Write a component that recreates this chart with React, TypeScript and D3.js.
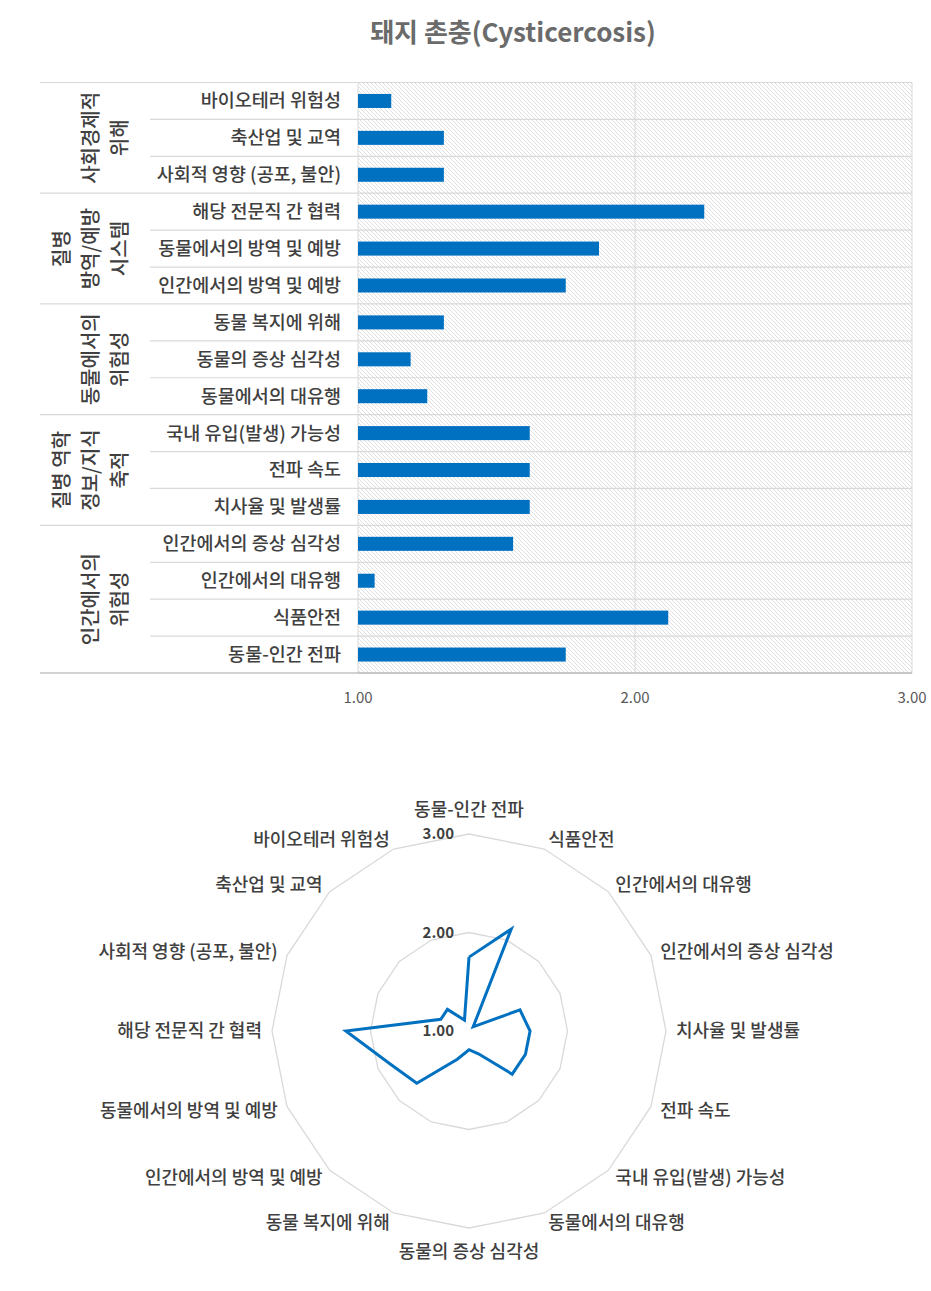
import React from "react";
import * as d3 from "d3";

const title = "돼지 촌충(Cysticercosis)";

const categories = [
  "바이오테러 위험성",
  "축산업 및 교역",
  "사회적 영향 (공포, 불안)",
  "해당 전문직 간 협력",
  "동물에서의 방역 및 예방",
  "인간에서의 방역 및 예방",
  "동물 복지에 위해",
  "동물의 증상 심각성",
  "동물에서의 대유행",
  "국내 유입(발생) 가능성",
  "전파 속도",
  "치사율 및 발생률",
  "인간에서의 증상 심각성",
  "인간에서의 대유행",
  "식품안전",
  "동물-인간 전파",
];

const values = [1.12, 1.31, 1.31, 2.25, 1.87, 1.75, 1.31, 1.19, 1.25, 1.62, 1.62, 1.62, 1.56, 1.06, 2.12, 1.75];

const groupLines = [
  ["사회경제적", "위해"],
  ["질병", "방역/예방", "시스템"],
  ["동물에서의", "위험성"],
  ["질병 역학", "정보/지식", "축적"],
  ["인간에서의", "위험성"],
];
const groupSizes = [3, 3, 3, 3, 4];

const barTicks = [1, 2, 3];
const radarTicks = [1, 2, 3];

const FONT = "'Noto Sans CJK KR', 'Noto Sans', sans-serif";
const BLUE = "#0070C0";
const TEXT = "#404040";

export default function App() {
  const plotL = 358, plotR = 912, plotT = 82.5, plotB = 673;
  const x = d3.scaleLinear().domain([1, 3]).range([plotL, plotR]);
  const y = d3.scaleBand<string>().domain(categories).range([plotT, plotB]).paddingInner(0.62).paddingOuter(0.31);
  const rowH = (plotB - plotT) / categories.length;
  const rowTop = (i: number) => plotT + i * rowH;

  const groupStarts: number[] = [];
  let acc = 0;
  groupSizes.forEach((s) => { groupStarts.push(acc); acc += s; });
  const groupEndSet = new Set(groupStarts.map((s, i) => s + groupSizes[i]));

  const cx = 469, cy = 1031;
  const radarCats = categories.slice().reverse();
  const radarVals = values.slice().reverse();
  const r = d3.scaleLinear().domain([1, 3]).range([0, 197]);
  const n = radarCats.length;
  const ang = (i: number) => (i * 2 * Math.PI) / n;
  const pt = (i: number, rad: number): [number, number] => [cx + rad * Math.sin(ang(i)), cy - rad * Math.cos(ang(i))];
  const ringPath = (v: number) => d3.line()(d3.range(n + 1).map((i) => pt(i % n, r(v))))!;
  const dataPath = d3.line()(d3.range(n + 1).map((i) => pt(i % n, r(radarVals[i % n]))))!;

  return (
    <svg width={930} height={1285} style={{ display: "block", position: "absolute", left: 0, top: 0 }} fontFamily={FONT}>
      <defs>
        <pattern id="hatch" patternUnits="userSpaceOnUse" width="4" height="4">
          <path d="M0,0 L4,4 M-1,3 L1,5 M3,-1 L5,1" stroke="#dcdcdc" strokeWidth="0.9" />
        </pattern>
      </defs>
      <g>
        <text x={513} y={42} textAnchor="middle" fontSize={26} fontWeight="bold" fill="#6b6b6b">{title}</text>

        <rect x={plotL} y={plotT} width={plotR - plotL} height={plotB - plotT} fill="url(#hatch)" />

        {d3.range(categories.length + 1).map((i) => (
          <line key={"hg" + i} x1={plotL} x2={plotR} y1={rowTop(i)} y2={rowTop(i)} stroke="#d9d9d9" strokeWidth={1.2} />
        ))}
        {d3.range(1, categories.length).map((i) => (
          <line key={"sep" + i} x1={groupEndSet.has(i) ? 40 : 150} x2={plotL} y1={rowTop(i)} y2={rowTop(i)} stroke="#d9d9d9" strokeWidth={1.2} />
        ))}
        <line x1={40} x2={plotR} y1={plotT} y2={plotT} stroke="#d9d9d9" strokeWidth={1.2} />

        {barTicks.map((t) => (
          <line key={"vg" + t} x1={x(t)} x2={x(t)} y1={plotT} y2={plotB} stroke="#d9d9d9" strokeWidth={1} />
        ))}

        {categories.map((c, i) => (
          <rect key={"b" + i} x={x(1)} y={y(c)!} width={x(values[i]) - x(1)} height={y.bandwidth()} fill={BLUE} />
        ))}

        <line x1={40} x2={plotR} y1={plotB} y2={plotB} stroke="#a6a6a6" strokeWidth={1.2} />

        {categories.map((c, i) => (
          <text key={"cl" + i} x={341} y={rowTop(i) + rowH / 2} dy="0.35em" textAnchor="end" fontSize={18.5} fontWeight={500} fill={TEXT}>{c}</text>
        ))}

        {groupLines.map((lines, g) => {
          const start = groupStarts[g];
          const midY = rowTop(start) + (groupSizes[g] * rowH) / 2;
          return lines.map((ln, k) => {
            const lx = 120 - (lines.length - 1 - k) * 29;
            return (
              <text key={"g" + g + "-" + k} transform={`translate(${lx},${midY}) rotate(-90)`} textAnchor="middle" dy="0.35em" fontSize={20} fontWeight={500} fill={TEXT}>{ln}</text>
            );
          });
        })}

        {barTicks.map((t) => (
          <text key={"xt" + t} x={x(t)} y={703} textAnchor="middle" fontSize={15} fill="#595959">{t.toFixed(2)}</text>
        ))}

        {radarTicks.filter((t) => t > 1).map((t) => (
          <path key={"ring" + t} d={ringPath(t)} fill="none" stroke="#d9d9d9" strokeWidth={1.3} />
        ))}
        <path d={dataPath} fill="none" stroke={BLUE} strokeWidth={3} strokeLinejoin="miter" />

        {radarTicks.map((t) => (
          <text key={"rt" + t} x={cx - 15} y={cy - r(t)} dy="0.35em" textAnchor="end" fontSize={15} fontWeight="bold" fill={TEXT}>{t.toFixed(2)}</text>
        ))}

        {radarCats.map((c, i) => {
          const a = ang(i);
          const s = Math.sin(a);
          const isVert = Math.abs(s) < 0.01;
          const rad = isVert ? 221 : 207;
          const [px, py] = pt(i, rad);
          const anchor = isVert ? "middle" : s > 0 ? "start" : "end";
          return (
            <text key={"rl" + i} x={px} y={py} dy="0.35em" textAnchor={anchor} fontSize={18} fontWeight={500} fill={TEXT}>{c}</text>
          );
        })}
      </g>
    </svg>
  );
}
